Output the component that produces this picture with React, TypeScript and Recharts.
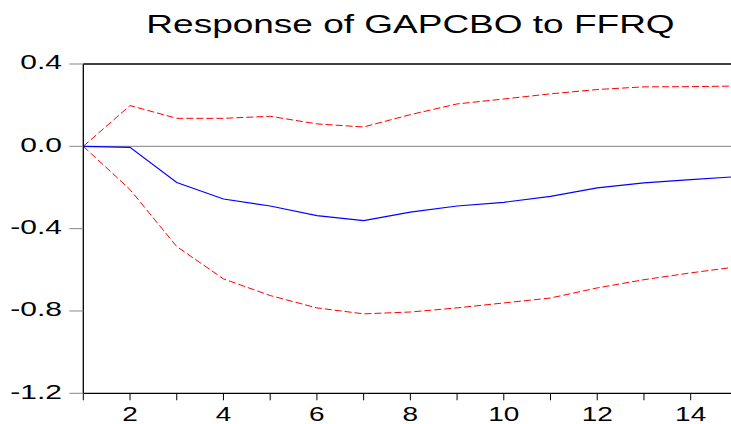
import { LineChart, Line, XAxis, YAxis, ReferenceLine } from 'recharts';

const periods = [1, 2, 3, 4, 5, 6, 7, 8, 9, 10, 11, 12, 13, 14, 15];
const response = [0, -0.005, -0.176, -0.256, -0.29, -0.337, -0.361, -0.32, -0.29, -0.272, -0.243, -0.202, -0.178, -0.162, -0.147];
const upperBand = [0, 0.198, 0.136, 0.136, 0.146, 0.109, 0.094, 0.154, 0.206, 0.23, 0.255, 0.276, 0.289, 0.29, 0.293];
const lowerBand = [0, -0.21, -0.487, -0.644, -0.725, -0.785, -0.814, -0.805, -0.785, -0.761, -0.737, -0.688, -0.648, -0.615, -0.585];
const yTicks = [-1.2, -0.8, -0.4, 0, 0.4];

const data = periods.map((p, i) => ({
  period: p,
  response: response[i],
  upper: upperBand[i],
  lower: lowerBand[i],
}));

const FONT = '"Liberation Sans", Arial, sans-serif';

const YTick = ({ y, payload }: any) => (
  <g transform={`translate(62,${y + 5.3}) scale(1.5,1)`}>
    <text x={0} y={0} textAnchor="end" fontSize={20} fontFamily={FONT} fill="#000">
      {payload.value.toFixed(1)}
    </text>
  </g>
);

const XTick = ({ x, payload }: any) => {
  if (payload.value % 2 !== 0) return <g />;
  return (
    <g transform={`translate(${x},421) scale(1.4,1)`}>
      <text x={0} y={0} textAnchor="middle" fontSize={20} fontFamily={FONT} fill="#000">
        {payload.value}
      </text>
    </g>
  );
};

export default function App() {
  return (
    <div style={{ position: 'absolute', left: 0, top: 0, width: 731, height: 424, overflow: 'hidden', background: '#fff' }}>
      <svg width={731} height={50} style={{ position: 'absolute', left: 0, top: 0 }}>
        <g transform="translate(410.5,33) scale(1.48,1)">
          <text x={0} y={0} textAnchor="middle" fontSize={25} fontFamily={FONT} fill="#000">
            Response of GAPCBO to FFRQ
          </text>
        </g>
      </svg>
      <LineChart
        width={740}
        height={424}
        data={data}
        margin={{ top: 64, right: 2.6, left: 0, bottom: 0 }}
      >
        <XAxis
          dataKey="period"
          type="number"
          domain={[1, 15]}
          ticks={periods}
          interval={0}
          height={30.7}
          tickSize={7}
          axisLine={{ stroke: '#000', strokeWidth: 1.3 }}
          tickLine={{ stroke: '#000' }}
          tick={<XTick />}
        />
        <YAxis
          type="number"
          domain={[-1.2, 0.4]}
          ticks={yTicks}
          width={83.3}
          tickSize={14}
          axisLine={{ stroke: '#000', strokeWidth: 1.3 }}
          tickLine={{ stroke: '#888' }}
          tick={<YTick />}
        />
        <ReferenceLine y={0.4} stroke="#000" strokeWidth={1.5} />
        <ReferenceLine y={0} stroke="#808080" strokeWidth={1} />
        <Line
          type="linear"
          dataKey="upper"
          stroke="#ff0000"
          strokeWidth={1}
          strokeDasharray="7 3"
          dot={false}
          isAnimationActive={false}
        />
        <Line
          type="linear"
          dataKey="lower"
          stroke="#ff0000"
          strokeWidth={1}
          strokeDasharray="7 3"
          dot={false}
          isAnimationActive={false}
        />
        <Line
          type="linear"
          dataKey="response"
          stroke="#0000ff"
          strokeWidth={1.2}
          dot={false}
          isAnimationActive={false}
        />
      </LineChart>
    </div>
  );
}
